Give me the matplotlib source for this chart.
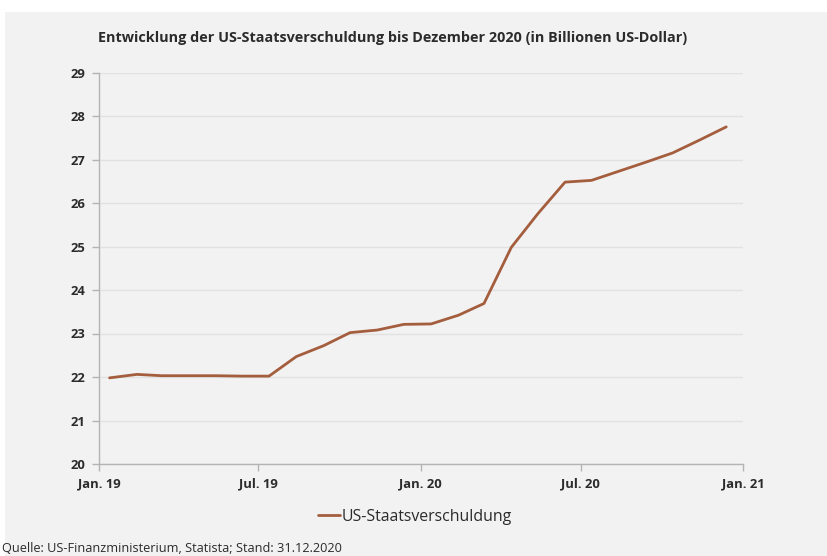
import datetime as dt

import matplotlib
matplotlib.use("Agg")
import matplotlib.dates as mdates
import matplotlib.pyplot as plt
from matplotlib.patches import Rectangle

# monthly values, Jan 2019 - Dec 2020 (trillion USD)
months = [f"{y}-{m:02d}" for y in (2019, 2020) for m in range(1, 13)]
debt = [21.98, 22.06, 22.03, 22.03, 22.03, 22.02, 22.02, 22.47, 22.72, 23.02,
        23.08, 23.21, 23.22, 23.42, 23.69, 24.98, 25.75, 26.48, 26.52, 26.73,
        26.94, 27.15, 27.45, 27.75]
tick_dates = ["2019-01", "2019-07", "2020-01", "2020-07", "2021-01"]
tick_labels = ["Jan. 19", "Jul. 19", "Jan. 20", "Jul. 20", "Jan. 21"]
y_ticks = list(range(20, 30))

BG = "#f2f2f2"
LINE = "#a45e3e"
GRID = "#e2e2e2"
AXIS = "#b4b4b4"
TXT = "#2b2b2b"

plt.rcParams["font.family"] = ["Open Sans", "DejaVu Sans"]

fig = plt.figure(figsize=(8.27, 5.56), dpi=100, facecolor="white")
fig.patches.append(Rectangle((5 / 827, 0), 1, 1 - 12 / 556, transform=fig.transFigure,
                             facecolor=BG, edgecolor="none", zorder=-10))

ax = fig.add_axes([99 / 827, 1 - 464 / 556, (743 - 99) / 827, (464 - 72.5) / 556])
ax.set_facecolor(BG)

def to_date(s, day=1):
    y, m = s.split("-")
    return dt.date(int(y), int(m), day)

x = [to_date(m, 13) for m in months]
ax.plot(x, debt, color=LINE, lw=2.0, label="US-Staatsverschuldung", solid_capstyle="round")

ax.set_xlim(to_date(tick_dates[0]), to_date(tick_dates[-1]))
ax.set_ylim(20, 29)
ax.set_xticks([mdates.date2num(to_date(t)) for t in tick_dates])
ax.set_xticklabels(tick_labels)
ax.set_yticks(y_ticks)

ax.grid(axis="y", color=GRID, lw=1.0)
ax.set_axisbelow(True)
for s in ("top", "right"):
    ax.spines[s].set_visible(False)
for s in ("left", "bottom"):
    ax.spines[s].set_color(AXIS)
    ax.spines[s].set_linewidth(1.0)
ax.tick_params(axis="both", colors=AXIS, length=5, width=1.0, labelcolor=TXT, labelsize=9.4)
for lbl in ax.get_xticklabels() + ax.get_yticklabels():
    lbl.set_fontweight("bold")
ax.tick_params(axis="y", pad=5)
ax.tick_params(axis="x", pad=5)

fig.text(98 / 827, 1 - 38 / 556, "Entwicklung der US-Staatsverschuldung bis Dezember 2020 (in Billionen US-Dollar)",
         fontsize=10.35, fontweight="bold", color=TXT, va="center", ha="left")

fig.legend(loc="center", bbox_to_anchor=(415 / 827, 1 - 517 / 556), frameon=False,
           handlelength=1.4, handletextpad=0.1, fontsize=11.4, labelcolor=TXT)

fig.text(2 / 827, 1 - 548 / 556, "Quelle: US-Finanzministerium, Statista; Stand: 31.12.2020",
         fontsize=9.2, color=TXT, va="center", ha="left")

fig.savefig("out.png", dpi=100, facecolor=fig.get_facecolor())
